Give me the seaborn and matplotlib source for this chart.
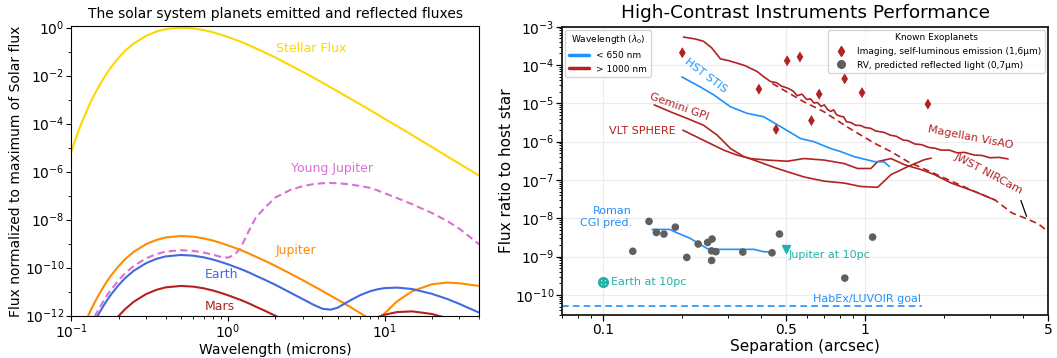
import numpy as np
import pandas as pd
import matplotlib
matplotlib.use("Agg")
import matplotlib.pyplot as plt
import matplotlib.ticker as mticker
from matplotlib.lines import Line2D
import seaborn as sns

# ---------------------------------------------------------------------------
# Left panel: spectra of the Sun and planets, log10(flux / max solar flux)
# ---------------------------------------------------------------------------
wavelength_um = [0.1, 0.105, 0.11, 0.115, 0.12, 0.13, 0.14, 0.15, 0.16, 0.17, 0.18,
                 0.2, 0.22, 0.25, 0.3, 0.35, 0.4, 0.5, 0.6, 0.7, 0.8, 0.9, 1.0, 1.1,
                 1.2, 1.35, 1.5, 1.7, 2.0, 2.5, 3.0, 3.5, 4.0, 4.5, 5.0, 6.0, 7.0,
                 8.0, 9.0, 10.0, 12.0, 15.0, 20.0, 25.0, 30.0, 40.0]
stellar_log10 = [-5.16, -4.75, -4.38, -4.05, -3.75, -3.23, -2.80, -2.44, -2.13, -1.86,
                 -1.63, -1.26, -0.97, -0.66, -0.34, -0.16, -0.06, 0.00, -0.03, -0.10,
                 -0.19, -0.29, -0.39, -0.49, -0.58, -0.72, -0.86, -1.02, -1.24, -1.57,
                 -1.84, -2.08, -2.29, -2.48, -2.65, -2.95, -3.20, -3.42, -3.62, -3.80,
                 -4.10, -4.48, -4.97, -5.36, -5.67, -6.16]
young_jupiter_log10 = [-14.43, -14.02, -13.65, -13.32, -13.02, -12.50, -12.07, -11.71,
                       -11.40, -11.13, -10.90, -10.53, -10.24, -9.93, -9.61, -9.43,
                       -9.33, -9.27, -9.30, -9.37, -9.46, -9.55, -9.58, -9.47, -9.19,
                       -8.50, -7.93, -7.53, -7.08, -6.76, -6.60, -6.52, -6.48, -6.47,
                       -6.48, -6.53, -6.60, -6.67, -6.78, -6.90, -7.10, -7.36, -7.72,
                       -8.05, -8.38, -9.02]
jupiter_log10 = [-13.84, -13.43, -13.06, -12.73, -12.43, -11.91, -11.48, -11.12, -10.81,
                 -10.54, -10.31, -9.94, -9.65, -9.34, -9.02, -8.84, -8.74, -8.68, -8.71,
                 -8.78, -8.87, -8.97, -9.07, -9.17, -9.26, -9.40, -9.54, -9.70, -9.92,
                 -10.25, -10.52, -10.76, -10.97, -11.16, -11.33, -11.63, -11.90, -12.12,
                 -12.12, -11.90, -11.40, -10.98, -10.69, -10.62, -10.65, -10.76]
earth_log10 = [-14.63, -14.22, -13.85, -13.52, -13.22, -12.70, -12.27, -11.91, -11.60,
               -11.33, -11.10, -10.73, -10.44, -10.13, -9.81, -9.63, -9.53, -9.47, -9.50,
               -9.57, -9.66, -9.76, -9.86, -9.96, -10.05, -10.19, -10.33, -10.49, -10.71,
               -11.04, -11.31, -11.54, -11.71, -11.75, -11.67, -11.37, -11.14, -10.99,
               -10.90, -10.85, -10.83, -10.89, -11.09, -11.30, -11.51, -11.87]
mars_log10 = [-15.92, -15.51, -15.14, -14.81, -14.51, -13.99, -13.56, -13.20, -12.89,
              -12.62, -12.39, -12.02, -11.73, -11.42, -11.10, -10.92, -10.82, -10.76,
              -10.79, -10.86, -10.95, -11.05, -11.15, -11.25, -11.34, -11.48, -11.62,
              -11.78, -12.00, -12.33, -12.60, -12.84, -13.05, -13.17, -13.15, -12.82,
              -12.49, -12.24, -12.07, -11.96, -11.85, -11.82, -11.93, -12.10, -12.28,
              -12.61]

# ---------------------------------------------------------------------------
# Right panel: contrast curves, separation (arcsec) and log10(contrast)
# ---------------------------------------------------------------------------
magellan_sep = [0.203, 0.225, 0.242, 0.26, 0.281, 0.30, 0.325, 0.35, 0.388, 0.41, 0.436,
                0.46, 0.48, 0.506, 0.53, 0.552, 0.575, 0.60, 0.62, 0.639, 0.66, 0.68,
                0.70, 0.72, 0.741, 0.76, 0.78, 0.809, 0.83, 0.85, 0.884, 0.92, 0.965,
                1.0, 1.05, 1.1, 1.186, 1.25, 1.32, 1.40, 1.458, 1.55, 1.65, 1.75, 1.85,
                1.955, 2.1, 2.25, 2.4, 2.623, 2.8, 3.0, 3.25, 3.52]
magellan_log10 = [-3.27, -3.32, -3.38, -3.55, -3.84, -3.88, -3.95, -4.02, -4.17, -4.30,
                  -4.43, -4.46, -4.55, -4.60, -4.67, -4.80, -4.76, -4.90, -4.88, -4.99,
                  -4.98, -5.08, -5.04, -5.16, -5.21, -5.17, -5.30, -5.34, -5.35, -5.48,
                  -5.50, -5.57, -5.58, -5.63, -5.65, -5.72, -5.76, -5.83, -5.86, -5.96,
                  -5.97, -6.06, -6.08, -6.15, -6.17, -6.22, -6.22, -6.29, -6.28, -6.35,
                  -6.36, -6.42, -6.41, -6.45]
jwst_sep = [0.443, 0.585, 0.698, 0.858, 1.087, 1.259, 1.458, 1.955, 2.623, 3.14, 3.64,
            4.18, 4.6, 5.0]
jwst_log10 = [-4.48, -4.96, -5.22, -5.62, -6.04, -6.26, -6.52, -6.91, -7.30, -7.52,
              -7.86, -8.02, -8.15, -8.34]
sphere_sep = [0.202, 0.235, 0.289, 0.325, 0.366, 0.424, 0.506, 0.585, 0.698, 0.833,
              0.938, 1.054, 1.119, 1.258, 1.415, 1.64, 1.844, 2.136, 2.623, 3.13]
sphere_log10 = [-5.70, -5.92, -6.22, -6.35, -6.44, -6.48, -6.51, -6.44, -6.48, -6.57,
                -6.70, -6.70, -6.52, -6.44, -6.60, -6.73, -6.86, -7.08, -7.30, -7.52]
gpi_sep = [0.157, 0.181, 0.209, 0.242, 0.273, 0.307, 0.345, 0.388, 0.463, 0.585, 0.698,
           0.833, 0.965, 1.119, 1.258, 1.458, 1.687, 1.79]
gpi_log10 = [-5.04, -5.22, -5.39, -5.57, -5.83, -6.18, -6.39, -6.51, -6.70, -6.92, -7.03,
             -7.08, -7.17, -7.19, -6.86, -6.65, -6.47, -6.43]
stis_sep = [0.200, 0.235, 0.265, 0.307, 0.355, 0.411, 0.491, 0.569, 0.639, 0.741, 0.809,
            0.91, 1.086, 1.186, 1.24]
stis_log10 = [-4.31, -4.57, -4.78, -5.09, -5.26, -5.35, -5.66, -5.92, -6.00, -6.18, -6.26,
              -6.39, -6.52, -6.53, -6.65]
roman_sep = [0.154, 0.18, 0.192, 0.215, 0.25, 0.273, 0.377, 0.41, 0.44]
roman_log10 = [-8.29, -8.29, -8.38, -8.52, -8.79, -8.81, -8.81, -8.87, -8.88]
goal_sep = [0.07, 1.65]
goal_log10 = [-10.30, -10.30]

imaging_sep = [0.201, 0.394, 0.458, 0.505, 0.565, 0.625, 0.669, 0.837, 0.975, 1.74]
imaging_log10 = [-3.68, -4.63, -5.68, -3.89, -3.79, -5.45, -4.76, -4.36, -4.72, -5.02]
rv_sep = [0.130, 0.150, 0.160, 0.171, 0.189, 0.209, 0.231, 0.251, 0.261, 0.260, 0.270,
          0.260, 0.342, 0.442, 0.472, 0.838, 1.07]
rv_log10 = [-8.86, -8.08, -8.37, -8.41, -8.23, -9.02, -8.67, -8.63, -8.54, -8.85, -8.87,
            -9.10, -8.88, -8.90, -8.41, -9.56, -8.49]

jupiter10pc = (0.5, -8.80)
earth10pc = (0.1, -9.67)
nircam_pointer_sep = [3.94, 4.14]
nircam_pointer_log10 = [-7.535, -7.95]

# ---------------------------------------------------------------------------
sns.set_theme(style="ticks")
plt.rcParams['font.family'] = ['DejaVu Sans']
plt.rcParams['mathtext.fontset'] = 'dejavusans'
plt.rcParams['axes.edgecolor'] = 'black'
plt.rcParams['xtick.color'] = 'black'
plt.rcParams['ytick.color'] = 'black'
plt.rcParams['text.color'] = 'black'
plt.rcParams['axes.labelcolor'] = 'black'

fig = plt.figure(figsize=(10.57, 3.58), dpi=100)
axL = fig.add_axes([0.0675, 0.1182, 0.3857, 0.8078])
axR = fig.add_axes([0.532, 0.1201, 0.4595, 0.8053])

# ----------------------------- left panel ---------------------------------
bodies = {
    'Stellar Flux': stellar_log10,
    'Young Jupiter': young_jupiter_log10,
    'Jupiter': jupiter_log10,
    'Earth': earth_log10,
    'Mars': mars_log10,
}
spec = pd.concat(
    [pd.DataFrame({'wavelength': wavelength_um, 'log_flux': vals, 'body': name})
     for name, vals in bodies.items()],
    ignore_index=True)
spec['flux'] = 10.0 ** spec['log_flux']

body_colors = {'Stellar Flux': 'gold', 'Young Jupiter': 'orchid', 'Jupiter': 'darkorange',
               'Earth': 'royalblue', 'Mars': 'firebrick'}
body_dashes = {'Stellar Flux': '', 'Young Jupiter': (3.5, 2.0), 'Jupiter': '',
               'Earth': '', 'Mars': ''}

axL.set_xscale('log')
axL.set_yscale('log')
sns.lineplot(data=spec, x='wavelength', y='flux', hue='body', style='body',
             palette=body_colors, dashes=body_dashes, estimator=None, sort=False,
             linewidth=1.5, legend=False, ax=axL)
axL.set_xlim(0.1, 40)
axL.set_ylim(1e-12, 1.12)
axL.yaxis.set_major_locator(mticker.FixedLocator([10.0 ** k for k in range(-12, 1, 2)]))
axL.yaxis.set_minor_locator(mticker.FixedLocator([10.0 ** k for k in range(-11, 0, 2)]))
axL.yaxis.set_major_formatter(mticker.LogFormatterSciNotation())
axL.yaxis.set_minor_formatter(mticker.NullFormatter())
axL.tick_params(which='major', length=3.5, width=0.8, labelsize=10, direction='out', pad=1.5)
axL.tick_params(which='minor', length=2, width=0.6, direction='out')
for s in axL.spines.values():
    s.set_linewidth(0.8)
    s.set_color('black')
axL.set_xlabel('Wavelength (microns)', fontsize=10, labelpad=1)
axL.set_ylabel('Flux normalized to maximum of Solar flux', fontsize=10, labelpad=1)
axL.set_title('The solar system planets emitted and reflected fluxes', fontsize=10)

label_pos = {'Stellar Flux': (2.02, -0.85), 'Young Jupiter': (2.52, -5.85),
             'Jupiter': (2.02, -9.30), 'Earth': (0.71, -10.30), 'Mars': (0.71, -11.60)}
for name, (lx, ly) in label_pos.items():
    axL.text(lx, 10.0 ** ly, name, color=body_colors[name], fontsize=9,
             ha='left', va='center')

# ----------------------------- right panel --------------------------------
red = 'firebrick'
blue = 'dodgerblue'
teal = 'lightseagreen'

curves = [
    ('Magellan VisAO', magellan_sep, magellan_log10, red, ''),
    ('JWST NIRCam', jwst_sep, jwst_log10, red, (4, 2.5)),
    ('VLT SPHERE', sphere_sep, sphere_log10, red, ''),
    ('Gemini GPI', gpi_sep, gpi_log10, red, ''),
    ('HST STIS', stis_sep, stis_log10, blue, ''),
    ('Roman CGI', roman_sep, roman_log10, blue, ''),
    ('HabEx/LUVOIR', goal_sep, goal_log10, blue, (4, 2.5)),
]
contrast = pd.concat(
    [pd.DataFrame({'sep': sx, 'log_c': sy, 'instrument': name})
     for name, sx, sy, _, _ in curves], ignore_index=True)
contrast['contrast'] = 10.0 ** contrast['log_c']

axR.set_xscale('log')
axR.set_yscale('log')
axR.set_axisbelow(True)
axR.grid(True, which='major', color='#ececec', linewidth=0.8)
sns.lineplot(data=contrast, x='sep', y='contrast', hue='instrument', style='instrument',
             palette={c[0]: c[3] for c in curves}, dashes={c[0]: c[4] for c in curves},
             estimator=None, sort=False, linewidth=1.2, legend=False, ax=axR)

planets = pd.concat([
    pd.DataFrame({'sep': imaging_sep, 'log_c': imaging_log10,
                  'kind': 'Imaging, self-luminous emission (1,6µm)'}),
    pd.DataFrame({'sep': rv_sep, 'log_c': rv_log10,
                  'kind': 'RV, predicted reflected light (0,7µm)'}),
], ignore_index=True)
planets['contrast'] = 10.0 ** planets['log_c']
img = planets[planets['kind'].str.startswith('Imaging')]
rv = planets[planets['kind'].str.startswith('RV')]
sns.scatterplot(data=img, x='sep', y='contrast', marker='d', color=red, s=32,
                edgecolor='none', ax=axR, legend=False, zorder=5)
sns.scatterplot(data=rv, x='sep', y='contrast', marker='o', color='#5f5f5f', s=30,
                edgecolor='none', ax=axR, legend=False, zorder=5)

axR.plot([jupiter10pc[0]], [10.0 ** jupiter10pc[1]], marker='v', color=teal,
         markersize=6, linestyle='none', zorder=6)
axR.plot([earth10pc[0]], [10.0 ** earth10pc[1]], marker='$\\oplus$', color=teal,
         markersize=7, linestyle='none', zorder=6)
axR.plot(nircam_pointer_sep, [10.0 ** v for v in nircam_pointer_log10],
         color='black', linewidth=0.9)

axR.set_xlim(0.07, 5)
axR.set_ylim(3e-11, 1e-3)
axR.xaxis.set_major_locator(mticker.FixedLocator([0.1, 0.5, 1, 5]))
axR.xaxis.set_major_formatter(mticker.FuncFormatter(lambda v, p: f"{v:g}"))
axR.xaxis.set_minor_locator(mticker.LogLocator(base=10, subs=np.arange(2, 10)))
axR.xaxis.set_minor_formatter(mticker.NullFormatter())
axR.yaxis.set_major_locator(mticker.FixedLocator([10.0 ** k for k in range(-10, -2)]))
axR.yaxis.set_major_formatter(mticker.LogFormatterSciNotation())
axR.yaxis.set_minor_locator(mticker.LogLocator(base=10, subs=np.arange(2, 10)))
axR.yaxis.set_minor_formatter(mticker.NullFormatter())
axR.tick_params(which='major', length=4, width=0.9, labelsize=10, direction='out',
                bottom=True, left=True, pad=1.5)
axR.tick_params(which='minor', length=2.2, width=0.7, direction='out',
                bottom=True, left=True)
for s in axR.spines.values():
    s.set_linewidth(1.3)
    s.set_color('#1a1a1a')
axR.set_xlabel('Separation (arcsec)', fontsize=11, labelpad=2)
axR.set_ylabel('Flux ratio to host star', fontsize=11, labelpad=0.5)
axR.set_title('High-Contrast Instruments Performance', fontsize=13.3)

ann = dict(fontsize=8, ha='center', va='center', rotation_mode='anchor')
axR.text(0.246, 10 ** -4.29, 'HST STIS', color=blue, rotation=-37, **ann)
axR.text(0.196, 10 ** -5.08, 'Gemini GPI', color=red, rotation=-20, **ann)
axR.text(0.1411, 10 ** -5.73, 'VLT SPHERE', color=red, **ann)
axR.text(2.525, 10 ** -5.885, 'Magellan VisAO', color=red, rotation=-11, **ann)
axR.text(2.95, 10 ** -6.84, 'JWST NIRCam', color=red, rotation=-28, **ann)
axR.text(0.1288, 10 ** -7.96, 'Roman\nCGI pred.', color=blue, fontsize=8,
         ha='right', va='center', multialignment='right')
axR.text(1.64, 10 ** -10.11, 'HabEx/LUVOIR goal', color=blue, fontsize=8,
         ha='right', va='center')
axR.text(0.51, 10 ** -8.95, 'Jupiter at 10pc', color=teal, fontsize=8,
         ha='left', va='center')
axR.text(0.1073, 10 ** -9.65, 'Earth at 10pc', color=teal, fontsize=8,
         ha='left', va='center')

wl_handles = [Line2D([0], [0], color=blue, lw=2.5), Line2D([0], [0], color=red, lw=2.5)]
leg1 = axR.legend(wl_handles, ['< 650 nm', '> 1000 nm'], title='Wavelength ($\\lambda_0$)',
                  loc='upper left', fontsize=6.5, title_fontsize=6.5, frameon=True,
                  borderaxespad=0.35, handlelength=2.2, edgecolor='#cccccc')
axR.add_artist(leg1)
pl_handles = [Line2D([0], [0], marker='d', color=red, linestyle='none', markersize=5),
              Line2D([0], [0], marker='o', color='#5f5f5f', linestyle='none', markersize=5.5)]
axR.legend(pl_handles, ['Imaging, self-luminous emission (1,6µm)',
                        'RV, predicted reflected light (0,7µm)'],
           title='Known Exoplanets', loc='upper right', fontsize=6.5, title_fontsize=6.5,
           frameon=True, borderaxespad=0.35, edgecolor='#cccccc')

fig.savefig('out.png', dpi=100, facecolor='white')
